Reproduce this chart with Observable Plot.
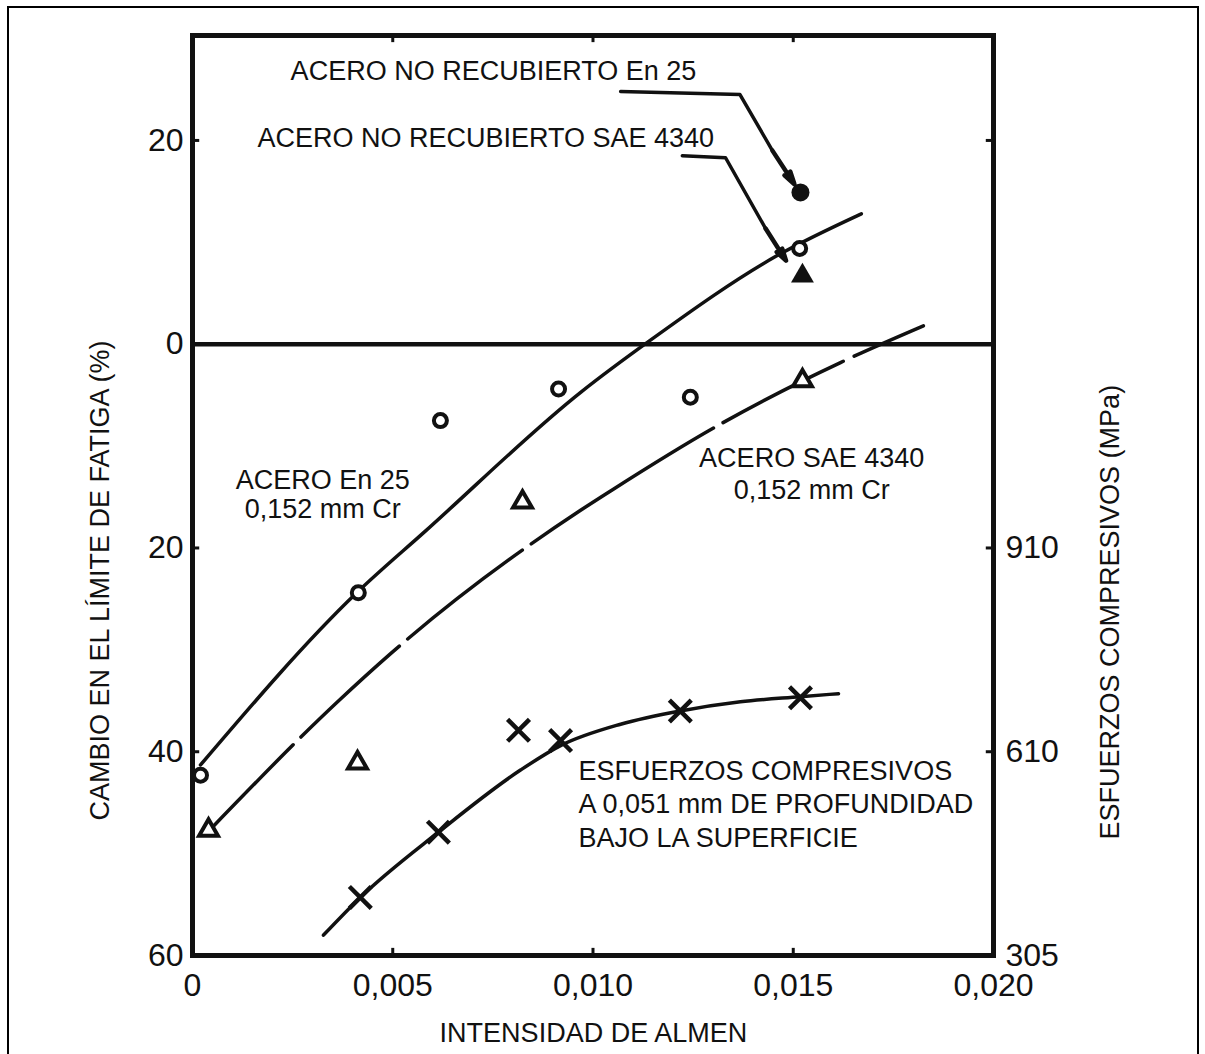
<!DOCTYPE html>
<html>
<head>
<meta charset="utf-8">
<script src="https://cdn.jsdelivr.net/npm/d3@7"></script>
<script src="https://cdn.jsdelivr.net/npm/@observablehq/plot@0.6"></script>
<style>
  body { margin: 0; background: #fff; }
  #wrap { position: relative; width: 1205px; height: 1054px; overflow: hidden; background: #fff; }
  #border { position: absolute; left: 7px; top: 6px; width: 1192px; height: 1100px;
            border: 2px solid #000; border-bottom: none; box-sizing: border-box; pointer-events: none; }
  #wrap svg { position: absolute; left: 0; top: 0; }
</style>
</head>
<body>
<div id="wrap"><div id="border"></div></div>
<script>
// ---- tick values and labels ----
const xTicks = [0, 0.005, 0.010, 0.015, 0.020];
const xTickLabels = ["0", "0,005", "0,010", "0,015", "0,020"];
const yTicks = [20, 0, -20, -40, -60];
const yTickLabels = ["20", "0", "20", "40", "60"];
const rightTicks = [-20, -40, -60];
const rightTickLabels = ["910", "610", "305"];

// ---- titles / annotations ----
const yTitle = "CAMBIO EN EL LÍMITE DE FATIGA (%)";
const yRightTitle = "ESFUERZOS COMPRESIVOS (MPa)";
const xTitle = "INTENSIDAD DE ALMEN";
const noteUncoatedEn25 = "ACERO NO RECUBIERTO En 25";
const noteUncoated4340 = "ACERO NO RECUBIERTO SAE 4340";
const noteEn25 = "ACERO En 25\n0,152 mm Cr";
const note4340 = "ACERO SAE 4340\n0,152 mm Cr";
const noteStress = "ESFUERZOS COMPRESIVOS\nA 0,051 mm DE PROFUNDIDAD\nBAJO LA SUPERFICIE";

// ---- measured points: chromed En 25 (open circles) ----
const en25X = [0.0002, 0.00414, 0.00619, 0.00914, 0.01243, 0.01516];
const en25Y = [-42.3, -24.4, -7.5, -4.4, -5.2, 9.4];
// ---- chromed SAE 4340 (open triangles) ----
const sae4340X = [0.0004, 0.00412, 0.00824, 0.01523];
const sae4340Y = [-47.7, -41.1, -15.5, -3.6];
// ---- uncoated steels (filled symbols) ----
const uncoatedEn25X = [0.01518];
const uncoatedEn25Y = [14.9];
const uncoated4340X = [0.01523];
const uncoated4340Y = [6.7];
// ---- compressive stresses (crosses) ----
const stressX = [0.00419, 0.00614, 0.00814, 0.00919, 0.01218, 0.01518];
const stressY = [-54.3, -47.9, -37.9, -38.9, -36.0, -34.7];

// ---- fitted curves as drawn ----
const curveEn25X = [0.0002, 0.0041, 0.0058, 0.0097, 0.0114, 0.0146, 0.0167];
const curveEn25Y = [-41.3, -24.4, -18.4, -4.7, 0.3, 8.7, 12.8];
const curve4340X = [0.00045, 0.00365, 0.00494, 0.00969, 0.01044, 0.01311, 0.01523, 0.01618, 0.01825];
const curve4340Y = [-47.6, -35.0, -30.4, -16.3, -14.4, -8.0, -3.6, -1.8, 1.8];
const curveStressX = [0.00327, 0.00419, 0.00614, 0.00819, 0.00919, 0.01069, 0.01218, 0.01368, 0.01518, 0.01613];
const curveStressY = [-58.0, -54.3, -47.9, -41.8, -39.4, -37.3, -36.0, -35.1, -34.6, -34.3];

// ---- leader arrows (polyline, then final headed segment) ----
const arrowEn25X = [0.01069, 0.01367, 0.01448];
const arrowEn25Y = [24.8, 24.5, 19.0];
const arrowEn25HeadX = [0.01448, 0.01503];
const arrowEn25HeadY = [19.0, 15.7];
const arrow4340X = [0.01223, 0.01331, 0.01431];
const arrow4340Y = [18.5, 18.3, 11.35];
const arrow4340HeadX = [0.01431, 0.01482];
const arrow4340HeadY = [11.35, 8.2];

const zip = (xs, ys) => xs.map((x, i) => ({x, y: ys[i]}));
const seg = (xs, ys) => [{x1: xs[0], y1: ys[0], x2: xs[1], y2: ys[1]}];
const lookup = (ticks, labels) => d => labels[ticks.findIndex(t => Math.abs(t - d) < 1e-9)];

const ink = "#111";
const font = "'Liberation Sans', Arial, Helvetica, sans-serif";

const innerX = xTicks.slice(1, -1);
const innerY = yTicks.filter(v => v !== 0 && v !== -60);

const chart = Plot.plot({
  width: 1205,
  height: 1054,
  marginLeft: 192,
  marginRight: 212,
  marginTop: 35,
  marginBottom: 99,
  style: {fontFamily: font, fontSize: "27px", color: ink, background: "transparent", overflow: "visible"},
  x: {domain: [0, 0.02]},
  y: {domain: [-60, 30.3]},
  marks: [
    // inward ticks
    Plot.ruleY(innerY, {y: d => d, x1: 0, x2: 0.00018, stroke: ink, strokeWidth: 3}),
    Plot.ruleY(innerY, {y: d => d, x1: 0.02, x2: 0.01982, stroke: ink, strokeWidth: 3}),
    Plot.ruleX(innerX, {x: d => d, y1: -60, y2: -59.3, stroke: ink, strokeWidth: 3}),
    Plot.ruleX(innerX, {x: d => d, y1: 30.3, y2: 29.6, stroke: ink, strokeWidth: 3}),
    // axes labels
    Plot.axisX(xTicks, {anchor: "bottom", tickSize: 0, tickPadding: 18, tickFormat: lookup(xTicks, xTickLabels), fontSize: 32, label: null, fill: ink}),
    Plot.axisY(yTicks, {anchor: "left", tickSize: 0, tickPadding: 9, tickFormat: lookup(yTicks, yTickLabels), fontSize: 32, label: null, fill: ink}),
    Plot.axisY(rightTicks, {anchor: "right", tickSize: 0, tickPadding: 12, tickFormat: lookup(rightTicks, rightTickLabels), fontSize: 32, label: null, fill: ink}),
    // curves
    Plot.line(zip(curveEn25X, curveEn25Y), {x: "x", y: "y", curve: "monotone-x", stroke: ink, strokeWidth: 3.5}),
    Plot.line(zip(curve4340X, curve4340Y), {x: "x", y: "y", curve: "monotone-x", stroke: ink, strokeWidth: 3.5,
      strokeDasharray: "118,11,134,11,145,11,216,11,135,12,200"}),
    Plot.line(zip(curveStressX, curveStressY), {x: "x", y: "y", curve: "monotone-x", stroke: ink, strokeWidth: 3.5}),
    // leader arrows
    Plot.line(zip(arrowEn25X, arrowEn25Y), {x: "x", y: "y", stroke: ink, strokeWidth: 3.5}),
    Plot.arrow(seg(arrowEn25HeadX, arrowEn25HeadY), {x1: "x1", y1: "y1", x2: "x2", y2: "y2", stroke: ink, strokeWidth: 4.5, headLength: 16, headAngle: 30}),
    Plot.line(zip(arrow4340X, arrow4340Y), {x: "x", y: "y", stroke: ink, strokeWidth: 3.5}),
    Plot.arrow(seg(arrow4340HeadX, arrow4340HeadY), {x1: "x1", y1: "y1", x2: "x2", y2: "y2", stroke: ink, strokeWidth: 4.5, headLength: 16, headAngle: 30}),
    // frame and zero line
    Plot.ruleY([0], {stroke: ink, strokeWidth: 4.5}),
    Plot.frame({stroke: ink, strokeWidth: 5}),
    // points
    Plot.dot(zip(en25X, en25Y), {x: "x", y: "y", symbol: "circle", r: 6.5, stroke: ink, strokeWidth: 4, fill: "white"}),
    Plot.dot(zip(sae4340X, sae4340Y), {x: "x", y: "y", symbol: "triangle", r: 7, stroke: ink, strokeWidth: 4, fill: "white"}),
    Plot.dot(zip(uncoatedEn25X, uncoatedEn25Y), {x: "x", y: "y", symbol: "circle", r: 9, fill: ink, stroke: "none"}),
    Plot.dot(zip(uncoated4340X, uncoated4340Y), {x: "x", y: "y", symbol: "triangle", r: 8.5, fill: ink, stroke: "none"}),
    Plot.dot(zip(stressX, stressY), {x: "x", y: "y", symbol: "times", r: 10, stroke: ink, strokeWidth: 4.5}),
    // annotations
    Plot.text([noteUncoatedEn25], {x: 0.00245, y: 26.8, text: d => d, textAnchor: "start", fontSize: 27, fill: ink}),
    Plot.text([noteUncoated4340], {x: 0.00162, y: 20.2, text: d => d, textAnchor: "start", fontSize: 27, fill: ink}),
    Plot.text([noteEn25], {x: 0.00325, y: -14.7, text: d => d, textAnchor: "middle", fontSize: 27, lineHeight: 1.08, fill: ink}),
    Plot.text([note4340], {x: 0.01546, y: -12.6, text: d => d, textAnchor: "middle", fontSize: 27, lineHeight: 1.19, fill: ink}),
    Plot.text([noteStress], {x: 0.00964, y: -45.0, text: d => d, textAnchor: "start", fontSize: 27, lineHeight: 1.24, fill: ink}),
    // axis titles
    Plot.text([yTitle], {frameAnchor: "left", y: -23.2, dx: -92, rotate: -90, textAnchor: "middle", lineAnchor: "middle", text: d => d, fontSize: 27, fill: ink}),
    Plot.text([yRightTitle], {frameAnchor: "right", y: -26.3, dx: 117, rotate: -90, textAnchor: "middle", lineAnchor: "middle", text: d => d, fontSize: 27, fill: ink}),
    Plot.text([xTitle], {frameAnchor: "bottom", x: 0.01001, dy: 78, textAnchor: "middle", lineAnchor: "middle", text: d => d, fontSize: 27, fill: ink})
  ]
});

document.getElementById("wrap").insertBefore(chart, document.getElementById("border"));
</script>
</body>
</html>
